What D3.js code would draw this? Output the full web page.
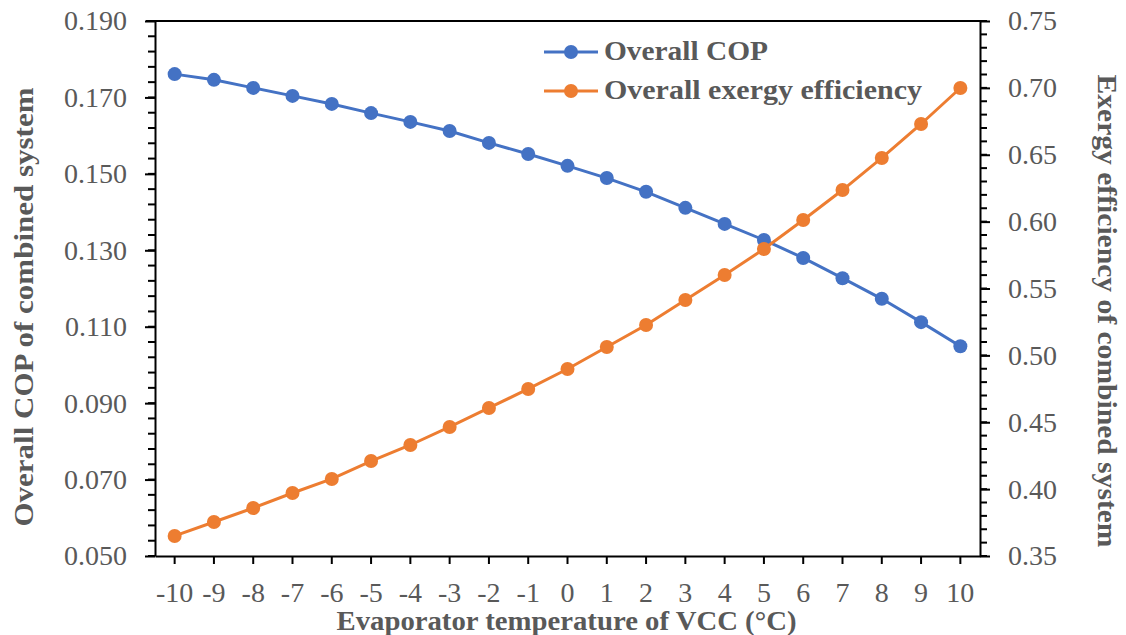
<!DOCTYPE html>
<html>
<head>
    <script src="https://cdn.jsdelivr.net/npm/d3@7"></script>
    <style>
        body { margin: 0; background: white; }
        text { font-family: "Liberation Serif", serif; fill: #595959; }
    </style>
</head>
<body>
<svg id="chart"></svg>
<script>
    // data
    const temps = [-10, -9, -8, -7, -6, -5, -4, -3, -2, -1, 0, 1, 2, 3, 4, 5, 6, 7, 8, 9, 10];
    const copValues = [0.1761, 0.1746, 0.1725, 0.1704, 0.1683, 0.1659, 0.1636, 0.1612, 0.1581, 0.1552,
        0.1521, 0.1489, 0.1453, 0.1411, 0.1369, 0.1327, 0.1280, 0.1227, 0.1173, 0.1112, 0.1049];
    const exergyValues = [0.365, 0.3754, 0.3859, 0.3971, 0.4076, 0.4210, 0.4330, 0.4465, 0.4607, 0.4749,
        0.4898, 0.5063, 0.5227, 0.5414, 0.5601, 0.5795, 0.6012, 0.6236, 0.6476, 0.6730, 0.6999];
    const leftTicks = [0.050, 0.070, 0.090, 0.110, 0.130, 0.150, 0.170, 0.190];
    const rightTicks = [0.35, 0.40, 0.45, 0.50, 0.55, 0.60, 0.65, 0.70, 0.75];

    const width = 1126, height = 635;
    const margin = { top: 21, right: 146, bottom: 79, left: 155 };
    const blue = "#4472C4", orange = "#ED7D31";

    const svg = d3.select("#chart").attr("width", width).attr("height", height);
    const g = svg.append("g").attr("transform", `translate(${margin.left},${margin.top})`);
    const w = width - margin.left - margin.right;
    const h = height - margin.top - margin.bottom;

    const x = d3.scaleBand().domain(temps).range([0, w]);
    const yL = d3.scaleLinear().domain([0.050, 0.190]).range([h, 0]);
    const yR = d3.scaleLinear().domain([0.35, 0.75]).range([h, 0]);

    // top frame
    g.append("line").attr("x1", -9).attr("x2", w).attr("y1", 0).attr("y2", 0)
        .attr("stroke", "black").attr("stroke-width", 2);

    // minor ticks
    const minorL = d3.range(0.050, 0.1901, 0.004);
    g.append("g").selectAll("line").data(minorL).join("line")
        .attr("x1", -7).attr("x2", 0).attr("y1", d => yL(d)).attr("y2", d => yL(d))
        .attr("stroke", "black").attr("stroke-width", 2);
    const minorR = d3.range(0.35, 0.7501, 0.01);
    g.append("g").selectAll("line").data(minorR).join("line")
        .attr("x1", w).attr("x2", w + 7).attr("y1", d => yR(d)).attr("y2", d => yR(d))
        .attr("stroke", "black").attr("stroke-width", 2);

    function styleAxis(sel) {
        sel.select(".domain").attr("stroke", "black").attr("stroke-width", 2);
        sel.selectAll(".tick line").attr("stroke", "black").attr("stroke-width", 2);
        sel.selectAll(".tick text").attr("fill", "#595959")
            .style("font-family", "'Liberation Serif', serif").style("font-size", "28px");
    }

    g.append("g")
        .call(d3.axisLeft(yL).tickValues(leftTicks).tickFormat(d3.format(".3f")).tickSize(10).tickSizeOuter(0).tickPadding(18))
        .call(styleAxis);

    g.append("g").attr("transform", `translate(${w},0)`)
        .call(d3.axisRight(yR).tickValues(rightTicks).tickFormat(d3.format(".2f")).tickSize(10).tickSizeOuter(0).tickPadding(18))
        .call(styleAxis);

    g.append("g").attr("transform", `translate(0,${h})`)
        .call(d3.axisBottom(x).tickSize(8).tickSizeOuter(0).tickPadding(18))
        .call(styleAxis);

    // series
    const series = [
        { name: "Overall COP", values: copValues, y: yL, color: blue, len: 164 },
        { name: "Overall exergy efficiency", values: exergyValues, y: yR, color: orange, len: 318 }
    ];
    const cx = d => x(d) + x.bandwidth() / 2;

    series.forEach(s => {
        const line = d3.line().x((d, i) => cx(temps[i])).y(d => s.y(d));
        g.append("path").datum(s.values)
            .attr("d", line).attr("fill", "none")
            .attr("stroke", s.color).attr("stroke-width", 3);
        g.append("g").selectAll("circle").data(s.values).join("circle")
            .attr("cx", (d, i) => cx(temps[i])).attr("cy", d => s.y(d))
            .attr("r", 7).attr("fill", s.color);
    });

    // legend
    const legend = svg.append("g").attr("transform", "translate(544,52)");
    series.forEach((s, i) => {
        const row = legend.append("g").attr("transform", `translate(0,${i * 39})`);
        row.append("line").attr("x1", 0).attr("x2", 54).attr("stroke", s.color).attr("stroke-width", 3);
        row.append("circle").attr("cx", 27).attr("r", 7).attr("fill", s.color);
        row.append("text").attr("x", 60).attr("y", 8)
            .attr("textLength", s.len).attr("lengthAdjust", "spacingAndGlyphs")
            .style("font-size", "27px").style("font-weight", "bold").text(s.name);
    });

    // axis titles
    svg.append("text").attr("x", margin.left + w / 2 - 1).attr("y", 630)
        .attr("text-anchor", "middle").attr("textLength", 460).attr("lengthAdjust", "spacingAndGlyphs")
        .style("font-size", "27px").style("font-weight", "bold")
        .text("Evaporator temperature of VCC (°C)");
    svg.append("text").attr("transform", `translate(33,307) rotate(-90)`)
        .attr("text-anchor", "middle").attr("textLength", 439).attr("lengthAdjust", "spacingAndGlyphs")
        .style("font-size", "28px").style("font-weight", "bold")
        .text("Overall COP of combined system");
    svg.append("text").attr("transform", `translate(1098,311) rotate(90)`)
        .attr("text-anchor", "middle").attr("textLength", 473).attr("lengthAdjust", "spacingAndGlyphs")
        .style("font-size", "28px").style("font-weight", "bold")
        .text("Exergy efficiency of combined system");
</script>
</body>
</html>
